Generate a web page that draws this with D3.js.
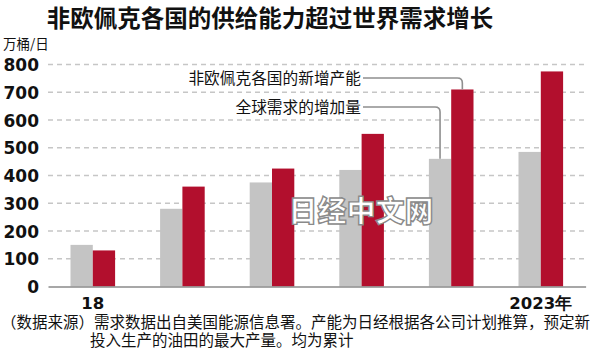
<!DOCTYPE html>
<html><head><meta charset="utf-8">
<script src="https://cdn.jsdelivr.net/npm/d3@7"></script>
<style>
html,body{margin:0;padding:0;background:#fff;}
svg{display:block;}
</style></head>
<body>
<svg id="c" width="600" height="360"></svg>
<script>
const years = ["2018","2019","2020","2021","2022","2023"];
const tickLabels = ["18","","","","","2023年"];
const demand = [150, 280, 375, 420, 460, 485];
const capacity = [130, 360, 425, 550, 710, 775];
const yTicks = [0,100,200,300,400,500,600,700,800];
const seriesNames = ["非欧佩克各国的新增产能", "全球需求的增加量"];
const title = "非欧佩克各国的供给能力超过世界需求增长";
const unit = "万桶/日";
const note1 = "（数据来源）需求数据出自美国能源信息署。产能为日经根据各公司计划推算，预定新";
const note2 = "投入生产的油田的最大产量。均为累计";

const RED = "#b20f2d", GRAY = "#c4c4c4";
const CJK = "'Noto Sans CJK SC','Noto Sans',sans-serif";
const NUM = "'DejaVu Sans','Noto Sans',sans-serif";

const svg = d3.select("#c");
const x = d3.scaleBand().domain(years).range([48, 585.6]).padding(0);
const y = d3.scaleLinear().domain([0, 800]).range([286.5, 64.5]);
const bw = 22.3;

// title
svg.append("text").attr("x", 270).attr("y", 27).attr("text-anchor","middle")
  .attr("font-family", CJK).attr("font-weight", 700).attr("font-size", 23.5)
  .attr("fill","#111").text(title);
svg.append("text").attr("x", 3).attr("y", 49).attr("font-family", CJK)
  .attr("font-size", 13.5).attr("fill","#111").text(unit);

// gridlines
svg.append("g").selectAll("line").data(yTicks.filter(d=>d>0)).join("line")
  .attr("x1", 48).attr("x2", 585).attr("y1", d=>y(d)).attr("y2", d=>y(d))
  .attr("stroke", "#c6c6c6").attr("stroke-width", 1.5).attr("stroke-dasharray","5,4");

// y axis labels
const yAxis = d3.axisLeft(y).tickValues(yTicks).tickSize(0).tickPadding(0);
const gy = svg.append("g").attr("transform","translate(39,0)").call(yAxis);
gy.select(".domain").remove();
gy.selectAll("text").attr("font-family", NUM).attr("font-size", 17).attr("font-weight", 600)
  .attr("fill","#111").attr("dy","0.36em");

// bars
const g = svg.append("g");
g.selectAll("rect.d").data(demand).join("rect").attr("class","d")
  .attr("x", (d,i)=>x(years[i]) + x.bandwidth()/2 - bw).attr("width", bw)
  .attr("y", d=>y(d)).attr("height", d=>y(0)-y(d)).attr("fill", GRAY);
g.selectAll("rect.c").data(capacity).join("rect").attr("class","c")
  .attr("x", (d,i)=>x(years[i]) + x.bandwidth()/2).attr("width", bw)
  .attr("y", d=>y(d)).attr("height", d=>y(0)-y(d)).attr("fill", RED);

// baseline & x axis
const xAxis = d3.axisBottom(x).tickSize(0).tickPadding(0).tickFormat((d,i)=>tickLabels[i]);
const gx = svg.append("g").attr("transform", `translate(0,${y(0)})`).call(xAxis);
gx.select(".domain").attr("stroke","#8a8a8a").attr("stroke-width",1.5);
gx.selectAll("text").attr("font-family", NUM).attr("font-size", 16.5).attr("font-weight", 600)
  .attr("fill","#111").attr("y", 0).attr("dy", 22.5);

// watermark
svg.append("text").attr("x", 361).attr("y", 222).attr("text-anchor","middle")
  .attr("font-family", CJK).attr("font-weight", 900).attr("font-size", 29)
  .attr("fill","#fff").attr("stroke","#8a8a8a").attr("stroke-width",1.4)
  .text("日经中文网");

// leader lines
function leader(yl, xe, ye){
  const r = 5;
  return `M363,${yl} H${xe - r} Q${xe},${yl} ${xe},${yl + r} V${ye}`;
}
const i5 = 4;
const capX = x(years[i5]) + x.bandwidth()/2 + bw/2;
const demX = x(years[i5]) + x.bandwidth()/2 - bw/2;
svg.append("path").attr("d", leader(78, capX, y(capacity[i5]))).attr("fill","none")
  .attr("stroke","#8f8f8f").attr("stroke-width",1.6);
svg.append("path").attr("d", leader(107, demX, y(demand[i5]))).attr("fill","none")
  .attr("stroke","#8f8f8f").attr("stroke-width",1.6);
svg.append("text").attr("x", 361).attr("y", 78).attr("dy","0.36em").attr("text-anchor","end")
  .attr("font-family", CJK).attr("font-size", 15.7).attr("fill","#111").text(seriesNames[0]);
svg.append("text").attr("x", 361).attr("y", 107).attr("dy","0.36em").attr("text-anchor","end")
  .attr("font-family", CJK).attr("font-size", 15.7).attr("fill","#111").text(seriesNames[1]);

// footnote
svg.append("text").attr("x", 1).attr("y", 328).attr("font-family", CJK)
  .attr("font-size", 15.5).attr("fill","#111").text(note1);
svg.append("text").attr("x", 90).attr("y", 346).attr("font-family", CJK)
  .attr("font-size", 15.5).attr("fill","#111").text(note2);
</script>
</body></html>
